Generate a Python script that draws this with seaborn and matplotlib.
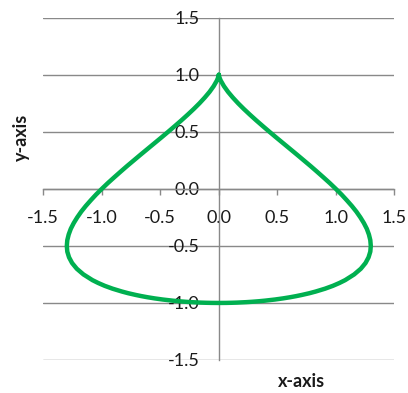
import matplotlib
matplotlib.use("Agg")
import matplotlib.pyplot as plt
import seaborn as sns
import pandas as pd

# Teardrop outline, right branch from the top cusp (0, 1) down to the bottom (0, -1)
right_y = [1.000, 0.975, 0.950, 0.900, 0.850, 0.800, 0.750, 0.700, 0.650, 0.600,
           0.550, 0.500, 0.450, 0.400, 0.350, 0.300, 0.250, 0.200, 0.150, 0.100,
           0.050, 0.000, -0.050, -0.100, -0.150, -0.200, -0.250, -0.300, -0.350, -0.400,
           -0.450, -0.500, -0.550, -0.600, -0.650, -0.700, -0.750, -0.800, -0.825, -0.850,
           -0.875, -0.900, -0.915, -0.930, -0.940, -0.950, -0.960, -0.970, -0.980, -0.985,
           -0.990, -0.993, -0.997, -0.9985, -0.9995, -1.000]
right_x = [0.000, 0.006, 0.016, 0.044, 0.079, 0.120, 0.165, 0.214, 0.266, 0.320,
           0.376, 0.433, 0.491, 0.550, 0.609, 0.668, 0.726, 0.784, 0.840, 0.895,
           0.949, 1.000, 1.049, 1.094, 1.137, 1.176, 1.210, 1.240, 1.265, 1.283,
           1.295, 1.299, 1.295, 1.280, 1.254, 1.214, 1.157, 1.080, 1.031, 0.975,
           0.908, 0.828, 0.773, 0.709, 0.662, 0.609, 0.549, 0.479, 0.394, 0.343,
           0.281, 0.235, 0.155, 0.109, 0.063, 0.000]

# Left branch, same heights, from the top cusp down to the bottom
left_y = [1.000, 0.975, 0.950, 0.900, 0.850, 0.800, 0.750, 0.700, 0.650, 0.600,
          0.550, 0.500, 0.450, 0.400, 0.350, 0.300, 0.250, 0.200, 0.150, 0.100,
          0.050, 0.000, -0.050, -0.100, -0.150, -0.200, -0.250, -0.300, -0.350, -0.400,
          -0.450, -0.500, -0.550, -0.600, -0.650, -0.700, -0.750, -0.800, -0.825, -0.850,
          -0.875, -0.900, -0.915, -0.930, -0.940, -0.950, -0.960, -0.970, -0.980, -0.985,
          -0.990, -0.993, -0.997, -0.9985, -0.9995, -1.000]
left_x = [0.000, -0.006, -0.016, -0.044, -0.079, -0.120, -0.165, -0.214, -0.266, -0.320,
          -0.376, -0.433, -0.491, -0.550, -0.609, -0.668, -0.726, -0.784, -0.840, -0.895,
          -0.949, -1.000, -1.049, -1.094, -1.137, -1.176, -1.210, -1.240, -1.265, -1.283,
          -1.295, -1.299, -1.295, -1.280, -1.254, -1.214, -1.157, -1.080, -1.031, -0.975,
          -0.908, -0.828, -0.773, -0.709, -0.662, -0.609, -0.549, -0.479, -0.394, -0.343,
          -0.281, -0.235, -0.155, -0.109, -0.063, 0.000]

tick_values = [-1.5, -1.0, -0.5, 0.0, 0.5, 1.0, 1.5]
tick_labels = ["-1.5", "-1.0", "-0.5", "0.0", "0.5", "1.0", "1.5"]

sns.set_theme(style="white")
plt.rcParams["font.family"] = ["Lato", "DejaVu Sans"]
plt.rcParams["axes.unicode_minus"] = False

GRID = "#898989"
TEXT = "#1a1a1a"
GREEN = "#00B050"

fig = plt.figure(figsize=(4.08, 3.93), dpi=100)
fig.patch.set_facecolor("white")
ax = fig.add_axes([43.3 / 408, 1 - 360 / 393, (394.3 - 43.3) / 408, (360 - 17.7) / 393])
ax.set_facecolor("white")

# One closed path: down the right branch, back up the left branch
df = pd.DataFrame({
    "x": right_x + left_x[::-1],
    "y": right_y + left_y[::-1],
})
sns.lineplot(data=df, x="x", y="y", sort=False, estimator=None,
             color=GREEN, lw=3.2, ax=ax, zorder=3)

ax.set_xlim(-1.5, 1.5)
ax.set_ylim(-1.5, 1.5)
ax.set_xticks(tick_values)
ax.set_xticklabels(tick_labels)
ax.set_yticks(tick_values)
ax.set_yticklabels(tick_labels)
ax.set_xlabel("")
ax.set_ylabel("")

# Horizontal gridlines only
ax.yaxis.grid(True, color=GRID, lw=1.0)
ax.xaxis.grid(False)
ax.set_axisbelow(True)

# Axes crossing at the origin
for side in ("top", "right"):
    ax.spines[side].set_visible(False)
for side in ("left", "bottom"):
    ax.spines[side].set_position(("data", 0))
    ax.spines[side].set_color(GRID)
    ax.spines[side].set_linewidth(1.0)
    ax.spines[side].set_zorder(1)

ax.tick_params(axis="x", direction="out", length=4.3, width=1.0, color=GRID,
               pad=11, labelsize=13, labelcolor=TEXT, bottom=True)
ax.tick_params(axis="y", length=0, pad=14, labelsize=13, labelcolor=TEXT, left=True)

fig.text(21 / 408, 1 - 137.6 / 393, "y-axis", rotation=90, ha="center", va="center",
         fontsize=13, fontweight="bold", color=TEXT)
fig.text(302 / 408, 1 - 381.7 / 393, "x-axis", ha="center", va="center",
         fontsize=13, fontweight="bold", color=TEXT)

fig.savefig("out.png", dpi=100, facecolor="white")
